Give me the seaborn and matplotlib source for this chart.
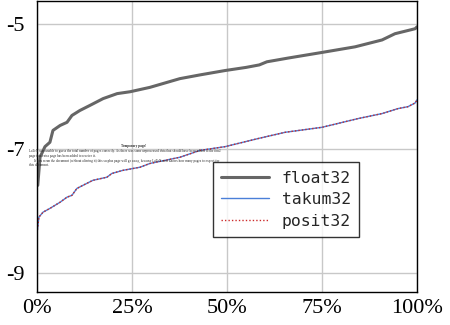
import numpy as np
import pandas as pd
import matplotlib
matplotlib.use("Agg")
import matplotlib.pyplot as plt
import seaborn as sns

# ---- data ----
float_x = [0.2, 0.8, 2.1, 3.4, 4.2, 6.1, 7.9, 9.2, 11.3, 13.9, 17.4, 21.1, 24.5, 29.7, 37.6, 42.9, 49.5, 55.0, 58.5, 60.5, 66.1, 75.0, 83.7, 90.8, 94.2, 99.5, 100.0]
float_y = [-7.59, -7.14, -6.97, -6.90, -6.71, -6.63, -6.58, -6.47, -6.39, -6.31, -6.20, -6.12, -6.09, -6.02, -5.88, -5.82, -5.75, -5.70, -5.66, -5.61, -5.55, -5.46, -5.37, -5.26, -5.16, -5.08, -5.05]
takum_x = [0.0, 0.5, 1.6, 3.4, 6.1, 7.9, 9.2, 10.5, 12.1, 14.7, 18.4, 19.7, 22.6, 27.1, 29.7, 37.6, 42.9, 49.5, 58.2, 65.3, 75.0, 84.5, 90.8, 95.0, 97.6, 99.5, 100.0]
takum_y = [-8.36, -8.10, -8.02, -7.96, -7.86, -7.78, -7.75, -7.64, -7.59, -7.51, -7.46, -7.40, -7.35, -7.30, -7.24, -7.14, -7.03, -6.97, -6.84, -6.74, -6.66, -6.52, -6.44, -6.36, -6.33, -6.27, -6.22]
posit_x = takum_x
posit_y = takum_y
y_ticks = [-5, -7, -9]
y_labels = ["-5", "-7", "-9"]
x_ticks = [0, 25, 50, 75, 100]
x_labels = ["0%", "25%", "50%", "75%", "100%"]

sns.set_theme(style="white")
plt.rcParams["font.family"] = ["Liberation Serif", "DejaVu Serif"]

fig = plt.figure(figsize=(4.5, 3.25), dpi=100)
ax = fig.add_axes([0.0822, 0.1015, 0.8445, 0.8965])

sns.lineplot(x=float_x, y=float_y, ax=ax, color="#666666", linewidth=2.2, label="float32")
sns.lineplot(x=takum_x, y=takum_y, ax=ax, color="#4a7fd8", linewidth=1.0, label="takum32")
sns.lineplot(x=posit_x, y=posit_y, ax=ax, color="#cc2a2a", linewidth=1.0, linestyle=(0, (1, 1.5)), label="posit32")

ax.set_xlim(0, 100)
ax.set_ylim(-9.3, -4.63)
ax.set_xticks(x_ticks)
ax.set_xticklabels(x_labels)
ax.set_yticks(y_ticks)
ax.set_yticklabels(y_labels)
ax.grid(True, color="#c8c8c8", linewidth=1.0)
ax.set_axisbelow(True)
for s in ax.spines.values():
    s.set_color("black")
    s.set_linewidth(1.0)
ax.tick_params(axis="both", labelsize=16, length=0, colors="black")
ax.tick_params(axis="y", pad=9)
ax.tick_params(axis="x", pad=5)

leg = ax.legend(loc="upper left", bbox_to_anchor=(0.463, 0.445), borderaxespad=0,
                prop={"family": "DejaVu Sans Mono", "size": 11.8}, frameon=True,
                fancybox=False, handlelength=2.9, borderpad=0.5, labelspacing=0.4)
leg.get_frame().set_edgecolor("black")
leg.get_frame().set_linewidth(1.0)

# tiny LaTeX artifact text
fs = 2.4
fig.text(0.296, 1 - 146 / 325, "Temporary page!", fontsize=fs, ha="center", va="center", weight="bold")
fig.text(0.064, 1 - 151 / 325, "LaTeX was unable to guess the total number of pages correctly. As there was some unprocessed data that should have been added to the final",
         fontsize=fs, ha="left", va="center")
fig.text(0.064, 1 - 155.5 / 325, "page this extra page has been added to receive it.", fontsize=fs, ha="left", va="center")
fig.text(0.075, 1 - 161 / 325, "If you rerun the document (without altering it) this surplus page will go away, because LaTeX now knows how many pages to expect for",
         fontsize=fs, ha="left", va="center")
fig.text(0.064, 1 - 165.5 / 325, "this document.", fontsize=fs, ha="left", va="center")

fig.savefig("out.png", dpi=100)
